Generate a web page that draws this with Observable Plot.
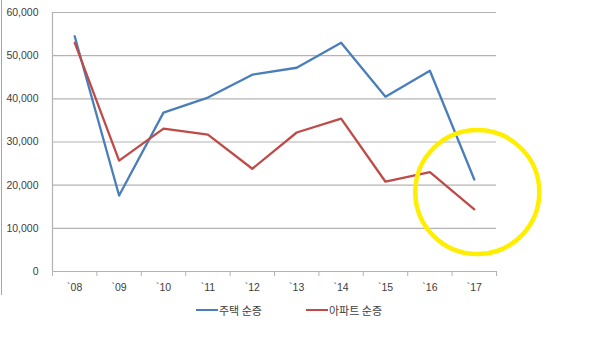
<!DOCTYPE html>
<html>
<head>
<meta charset="utf-8">
<script src="https://cdn.jsdelivr.net/npm/d3@7"></script>
<script src="https://cdn.jsdelivr.net/npm/@observablehq/plot@0.6"></script>
<style>
  body { margin: 0; background: #fff; }
  #wrap { position: relative; width: 600px; height: 354px; overflow: hidden; }
  #border { position: absolute; left: 1px; top: 0; width: 1px; height: 295px; background: #a6a6a6; }
  .leg { position: absolute; top: 302px; font-family: "Noto Sans CJK KR", sans-serif; font-size: 11px; color: #404040; display: flex; align-items: center; }
  .leg span.sw { display: inline-block; width: 22px; height: 2px; margin-right: 1px; }
</style>
</head>
<body>
<div id="wrap">
  <div id="chart"></div>
  <div id="border"></div>
  <div class="leg" style="left:196px"><span class="sw" style="background:#4a7ebb"></span>주택 순증</div>
  <div class="leg" style="left:306px"><span class="sw" style="background:#be4b48"></span>아파트 순증</div>
</div>
<script>
const years = ["`08", "`09", "`10", "`11", "`12", "`13", "`14", "`15", "`16", "`17"];
const housing = [54500, 17600, 36800, 40300, 45600, 47200, 53000, 40500, 46500, 21300];
const apartment = [53000, 25700, 33100, 31700, 23800, 32200, 35400, 20800, 23000, 14400];
const yTicks = [0, 10000, 20000, 30000, 40000, 50000, 60000];
const highlight = [{idx: 9, value: 18400}];

const rows = [];
years.forEach((y, i) => {
  rows.push({idx: i, year: y, value: housing[i], series: "주택 순증"});
  rows.push({idx: i, year: y, value: apartment[i], series: "아파트 순증"});
});
const xDomain = [-0.5, years.length - 0.5];
const boundaries = d3.range(years.length + 1).map(i => i - 0.5);

const chart = Plot.plot({
  width: 600,
  height: 300,
  marginLeft: 52,
  marginRight: 104,
  marginTop: 12,
  marginBottom: 29,
  style: {fontFamily: "'Liberation Sans', Arial, sans-serif", fontSize: "10.5px", color: "#404040", background: "#fff"},
  x: {type: "linear", domain: xDomain, axis: null},
  y: {domain: [0, 60000], axis: null},
  color: {domain: ["주택 순증", "아파트 순증"], range: ["#4a7ebb", "#be4b48"]},
  marks: [
    Plot.gridY(yTicks, {stroke: "#b3b3b3", strokeOpacity: 1, strokeWidth: 1.2}),
    Plot.ruleX([xDomain[0]], {stroke: "#b3b3b3", strokeWidth: 1.2}),
    Plot.ruleY([0], {stroke: "#b3b3b3", strokeWidth: 1.2}),
    Plot.axisY({ticks: yTicks, tickSize: 0, tickPadding: 14, tickFormat: d3.format(","), fill: "#404040", label: null}),
    Plot.axisX({ticks: boundaries, tickSize: 5, tickFormat: () => "", stroke: "#b3b3b3", label: null}),
    Plot.axisX({ticks: d3.range(years.length), tickSize: 0, tickPadding: 12, tickFormat: i => years[i], fill: "#404040", label: null}),
    Plot.line(rows, {x: "idx", y: "value", z: "series", stroke: "series", strokeWidth: 2.3, curve: "linear"}),
    Plot.dot(highlight, {x: "idx", y: "value", r: 62, dx: 3, stroke: "#ffee00", strokeWidth: 4.5, fill: "none"})
  ]
});
document.getElementById("chart").appendChild(chart);
</script>
</body>
</html>
